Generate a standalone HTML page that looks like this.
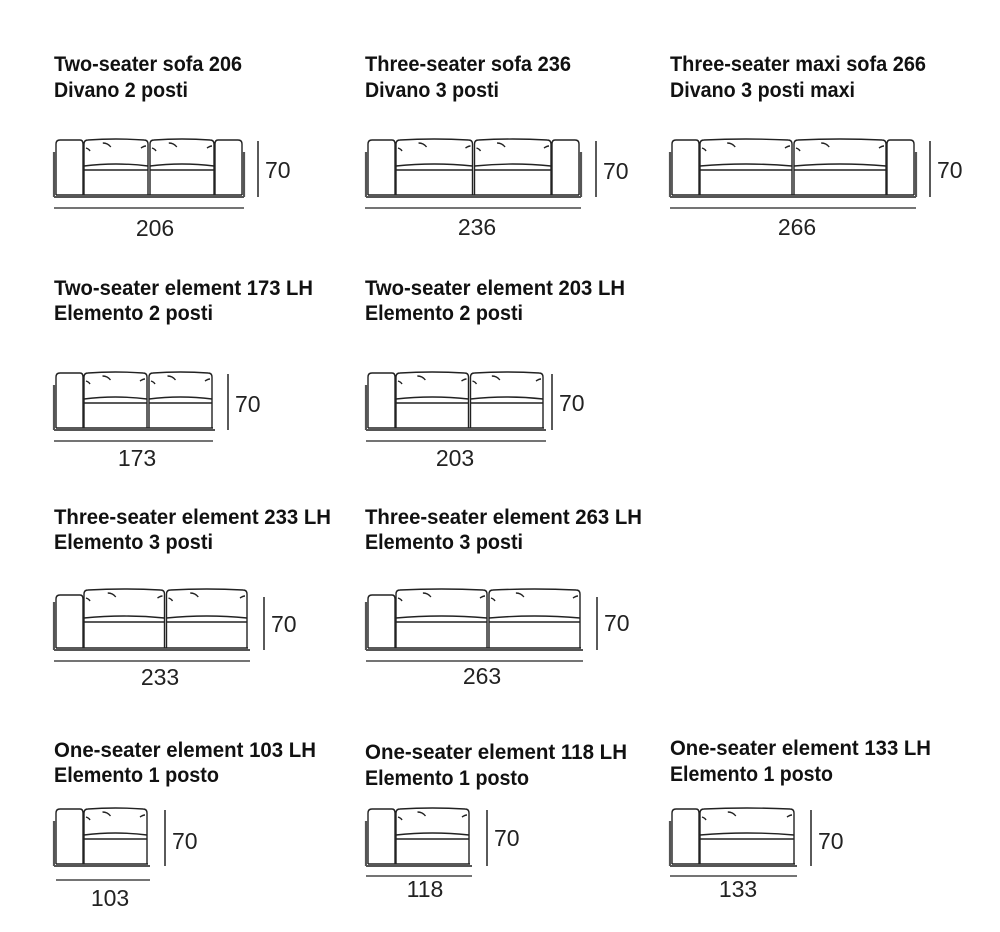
<!DOCTYPE html>
<html><head><meta charset="utf-8"><style>
html,body{margin:0;padding:0;background:#fff;}
svg{display:block}
.t{font-family:"Liberation Sans Narrow","Liberation Sans",sans-serif;font-weight:bold;font-size:21px;fill:#111}
.n{font-family:"Liberation Sans",sans-serif;font-size:23px;fill:#222}
</style></head><body>
<svg id="s" width="1000" height="932" viewBox="0 0 1000 932" xmlns="http://www.w3.org/2000/svg">
<g id="txt">
<text class="t" x="54" y="71" textLength="188" lengthAdjust="spacingAndGlyphs">Two-seater sofa 206</text>
<text class="t" x="54" y="97" textLength="134" lengthAdjust="spacingAndGlyphs">Divano 2 posti</text>
<text class="t" x="365" y="71" textLength="206" lengthAdjust="spacingAndGlyphs">Three-seater sofa 236</text>
<text class="t" x="365" y="97" textLength="134" lengthAdjust="spacingAndGlyphs">Divano 3 posti</text>
<text class="t" x="670" y="71" textLength="256" lengthAdjust="spacingAndGlyphs">Three-seater maxi sofa 266</text>
<text class="t" x="670" y="97" textLength="185" lengthAdjust="spacingAndGlyphs">Divano 3 posti maxi</text>
<text class="t" x="54" y="295" textLength="259" lengthAdjust="spacingAndGlyphs">Two-seater element 173 LH</text>
<text class="t" x="54" y="320" textLength="159" lengthAdjust="spacingAndGlyphs">Elemento 2 posti</text>
<text class="t" x="365" y="295" textLength="260" lengthAdjust="spacingAndGlyphs">Two-seater element 203 LH</text>
<text class="t" x="365" y="320" textLength="158" lengthAdjust="spacingAndGlyphs">Elemento 2 posti</text>
<text class="t" x="54" y="524" textLength="277" lengthAdjust="spacingAndGlyphs">Three-seater element 233 LH</text>
<text class="t" x="54" y="549" textLength="159" lengthAdjust="spacingAndGlyphs">Elemento 3 posti</text>
<text class="t" x="365" y="524" textLength="277" lengthAdjust="spacingAndGlyphs">Three-seater element 263 LH</text>
<text class="t" x="365" y="549" textLength="158" lengthAdjust="spacingAndGlyphs">Elemento 3 posti</text>
<text class="t" x="54" y="757" textLength="262" lengthAdjust="spacingAndGlyphs">One-seater element 103 LH</text>
<text class="t" x="54" y="782" textLength="165" lengthAdjust="spacingAndGlyphs">Elemento 1 posto</text>
<text class="t" x="365" y="759" textLength="262" lengthAdjust="spacingAndGlyphs">One-seater element 118 LH</text>
<text class="t" x="365" y="785" textLength="164" lengthAdjust="spacingAndGlyphs">Elemento 1 posto</text>
<text class="t" x="670" y="755" textLength="261" lengthAdjust="spacingAndGlyphs">One-seater element 133 LH</text>
<text class="t" x="670" y="781" textLength="163" lengthAdjust="spacingAndGlyphs">Elemento 1 posto</text>
</g>
<g id="d" fill="none" stroke="#222" stroke-width="1.4"></g>
</svg>
<script>
var g=document.getElementById('d'),s=document.getElementById('s');
function el(t,a,p){var e=document.createElementNS('http://www.w3.org/2000/svg',t);for(var k in a)e.setAttribute(k,a[k]);(p||g).appendChild(e);return e;}
function txt(x,y,str,anchor){var e=el('text',{x:x,y:y,'class':'n','text-anchor':anchor||'middle'},s);e.textContent=str;}
function sofa(o){
 var x0=o.x0,x1=o.x1,top=o.top,base=o.base,at=o.armTop,aw=27;
 el('line',{x1:x0,y1:top+12,x2:x0,y2:base,'stroke-width':2.2,stroke:'#555'});
 el('line',{x1:x0,y1:base,x2:x1,y2:base,'stroke-width':2,stroke:'#555'});
 if(o.both) el('line',{x1:x1,y1:top+12,x2:x1,y2:base,'stroke-width':2.2,stroke:'#555'});
 var lb=x0+2, la=x0+2+aw;
 el('path',{d:'M'+lb+' '+(base-2)+' V'+(at+4)+' Q'+lb+' '+at+' '+(lb+4)+' '+at+' H'+(la-3)+' Q'+la+' '+at+' '+la+' '+(at+4)+' V'+(base-2)});
 var rb=o.both?x1-2-aw:x1-2;
 if(o.both){var ra=x1-2;el('path',{d:'M'+rb+' '+(base-2)+' V'+(at+4)+' Q'+rb+' '+at+' '+(rb+3)+' '+at+' H'+(ra-4)+' Q'+ra+' '+at+' '+ra+' '+(at+4)+' V'+(base-2)});}
 el('line',{x1:lb,y1:base-2,x2:x1-2,y2:base-2});
 var bb=top+Math.round((base-top)*0.46);
 var n=o.seats,w=(rb-la)/n;
 for(var i=0;i<n;i++){
  var a=la+i*w,b=a+w;
  el('path',{d:'M'+(a+1)+' '+(bb)+' V'+(top+4)+' Q'+(a+1)+' '+top+' '+(a+5)+' '+top+' Q'+((a+b)/2)+' '+(top-2)+' '+(b-5)+' '+top+' Q'+(b-1)+' '+top+' '+(b-1)+' '+(top+4)+' V'+bb});
  el('path',{d:'M'+(a+1)+' '+bb+' Q'+((a+b)/2)+' '+(bb-4)+' '+(b-1)+' '+bb});
  el('line',{x1:a+1,y1:bb+4,x2:b-1,y2:bb+4});
  el('path',{d:'M'+(a+1)+' '+bb+' V'+(base-2)+' M'+(b-1)+' '+bb+' V'+(base-2)});
  el('path',{d:'M'+(a+w*0.3)+' '+(top+3)+' q5 0 8 4 M'+(b-8)+' '+(top+8)+' q3 -2 5 -2 M'+(a+3)+' '+(top+8)+' q3 1 4 3'});
 }
 el('line',{x1:o.dx0||x0,y1:o.dimY,x2:o.dx1||x1,y2:o.dimY,'stroke-width':1.3});
 el('line',{x1:o.vx,y1:o.vtop,x2:o.vx,y2:base,'stroke-width':1.5});
 txt(o.vx+7,o.sevY,'70','start');
 txt(o.numX,o.numY,o.label);
}
sofa({x0:54,x1:244,top:140,base:197,armTop:140,both:1,seats:2,vx:258,vtop:141,dimY:208,numX:155,numY:236,sevY:178,label:'206'});
sofa({x0:366,x1:581,top:140,base:197,armTop:140,both:1,seats:2,vx:596,vtop:141,dimY:208,dx0:365,numX:477,numY:235,sevY:179,label:'236'});
sofa({x0:670,x1:916,top:140,base:197,armTop:140,both:1,seats:2,vx:930,vtop:141,dimY:208,numX:797,numY:235,sevY:178,label:'266'});
sofa({x0:54,x1:215,top:373,base:430,armTop:373,both:0,seats:2,vx:228,vtop:374,dimY:441,dx1:213,numX:137,numY:466,sevY:412,label:'173'});
sofa({x0:366,x1:546,top:373,base:430,armTop:373,both:0,seats:2,vx:552,vtop:374,dimY:441,numX:455,numY:466,sevY:411,label:'203'});
sofa({x0:54,x1:250,top:590,base:650,armTop:595,both:0,seats:2,vx:264,vtop:597,dimY:661,numX:160,numY:685,sevY:632,label:'233'});
sofa({x0:366,x1:583,top:590,base:650,armTop:595,both:0,seats:2,vx:597,vtop:597,dimY:661,numX:482,numY:684,sevY:631,label:'263'});
sofa({x0:54,x1:150,top:809,base:866,armTop:809,both:0,seats:1,vx:165,vtop:810,dimY:880,dx0:56,numX:110,numY:906,sevY:849,label:'103'});
sofa({x0:366,x1:472,top:809,base:866,armTop:809,both:0,seats:1,vx:487,vtop:810,dimY:876,numX:425,numY:897,sevY:846,label:'118'});
sofa({x0:670,x1:797,top:809,base:866,armTop:809,both:0,seats:1,vx:811,vtop:810,dimY:876,numX:738,numY:897,sevY:849,label:'133'});
</script>
</body></html>
